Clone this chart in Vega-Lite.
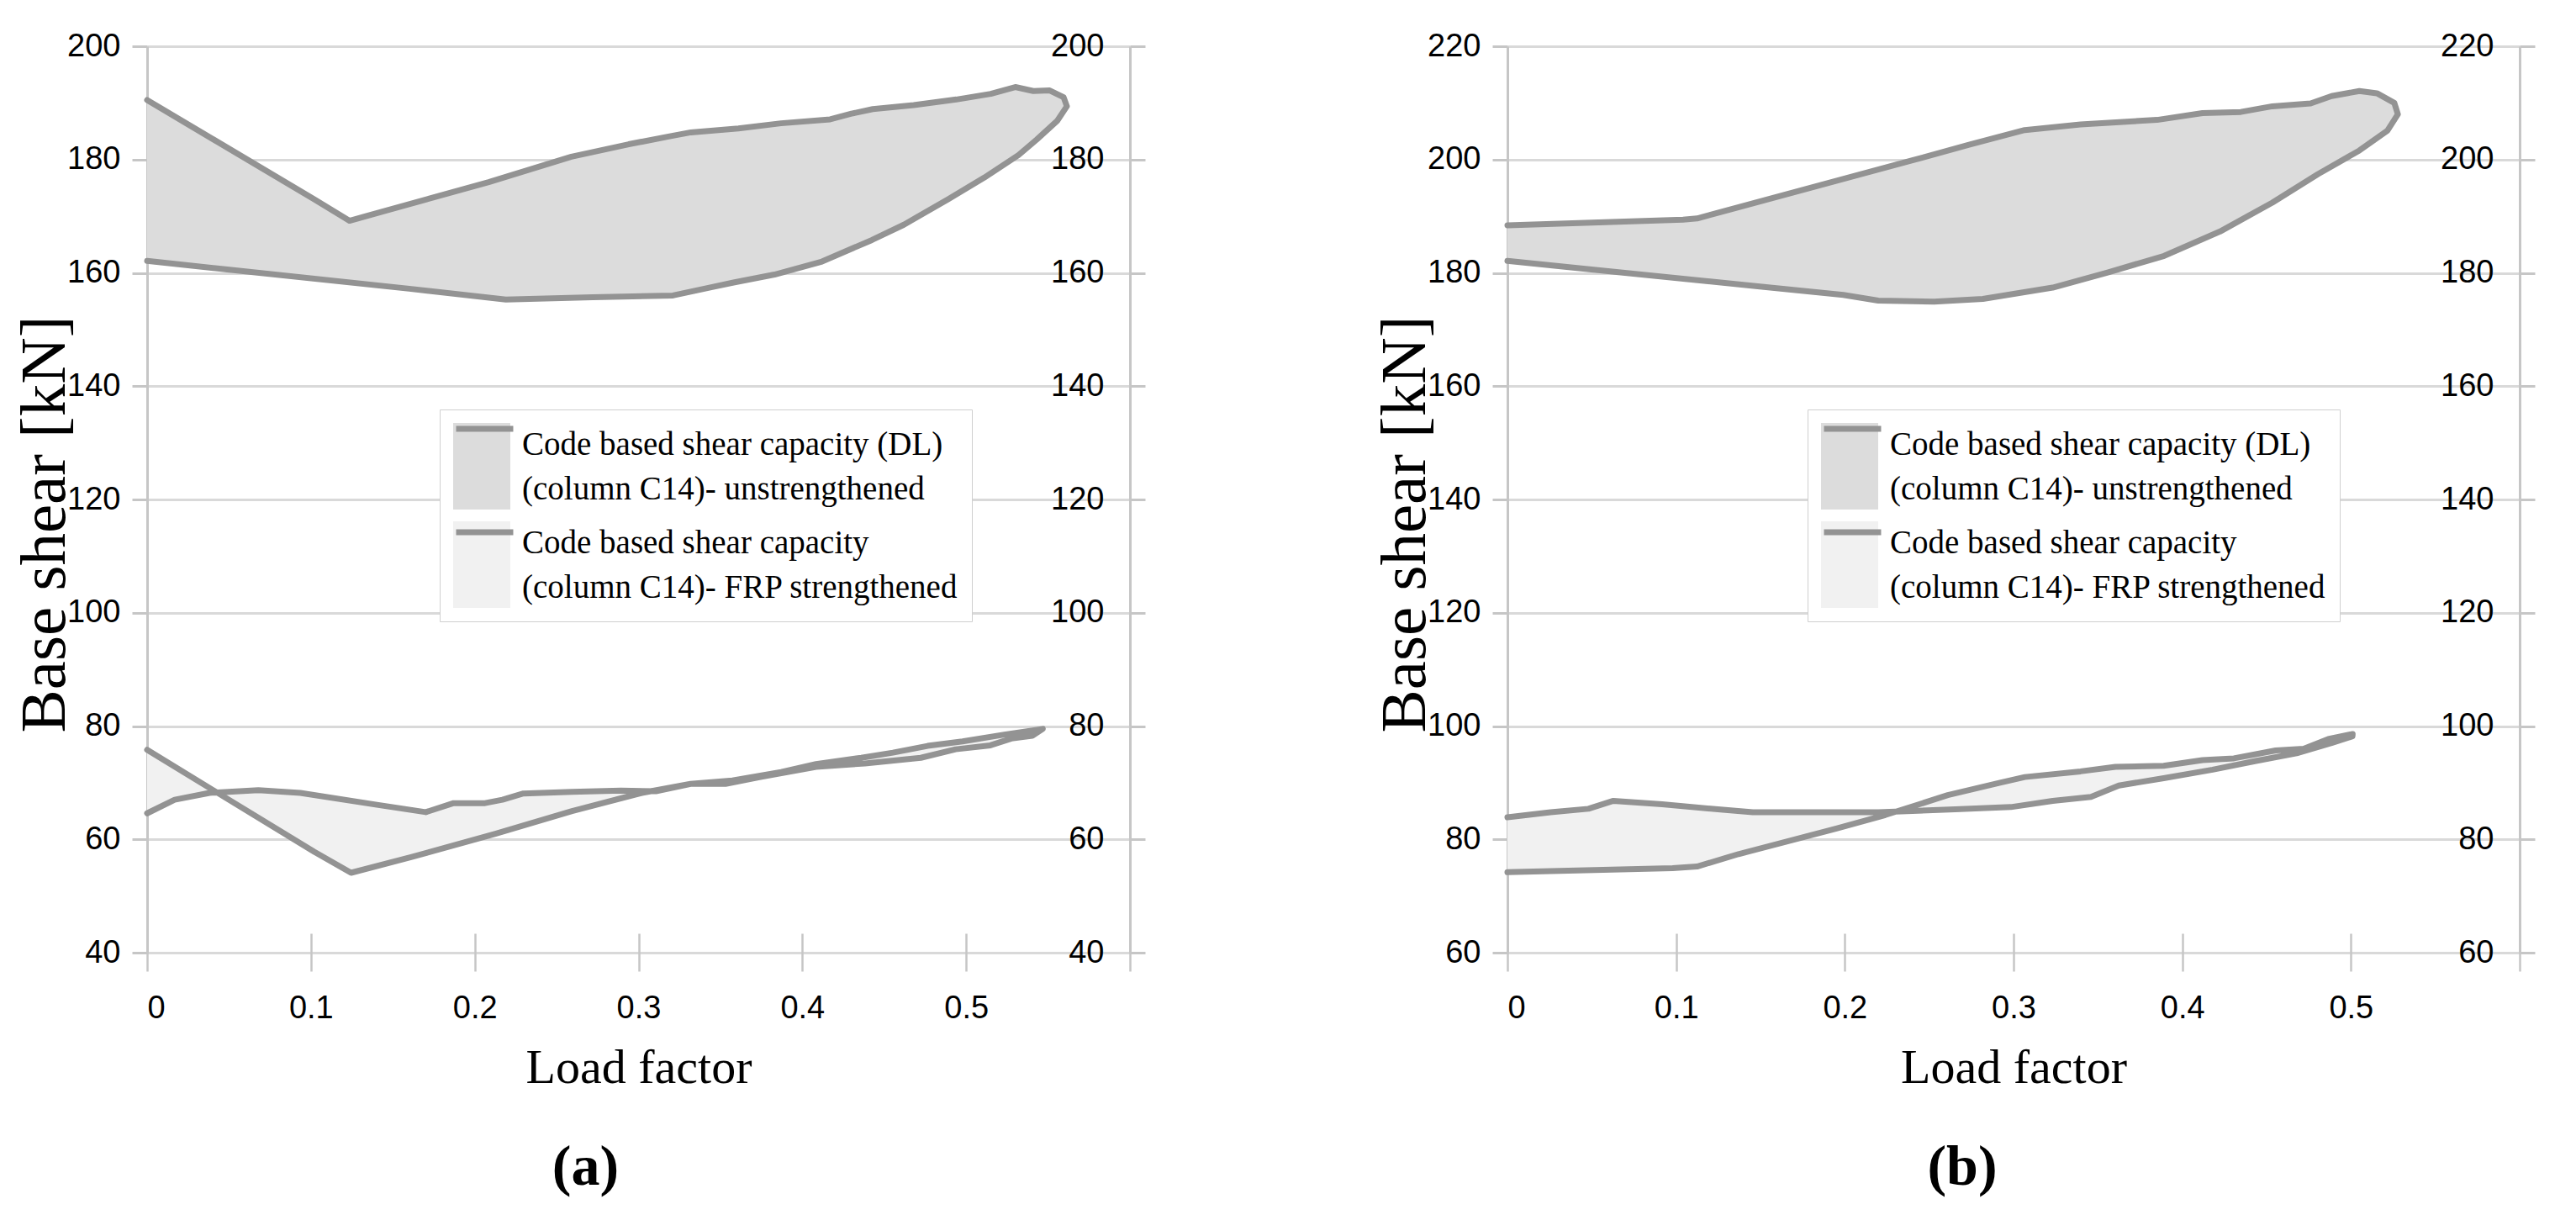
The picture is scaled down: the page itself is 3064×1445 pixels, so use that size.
{
  "$schema": "https://vega.github.io/schema/vega-lite/v6.json",
  "background": "white",
  "autosize": {"type": "pad"},
  "padding": {"left": 14, "top": 36, "right": 40, "bottom": 20},
  "config": {
    "view": {"stroke": null},
    "axis": {
      "labelFont": "Liberation Sans Narrow, Arial Narrow, Liberation Sans, sans-serif",
      "labelFontSize": 38,
      "labelColor": "#000000",
      "domainColor": "#c6c6c6",
      "domainWidth": 3,
      "tickColor": "#c6c6c6",
      "tickWidth": 3,
      "gridColor": "#d9d9d9",
      "gridWidth": 3,
      "titleFont": "Liberation Serif",
      "titleFontWeight": "normal",
      "titleColor": "#000000"
    }
  },
  "datasets": {
    "a": [
      {"s":"DL","i":0,"x":0,"y":190.5},{"s":"DL","i":1,"x":0.102,"y":173.0},{"s":"DL","i":2,"x":0.1235,"y":169.2},{"s":"DL","i":3,"x":0.2085,"y":176.0},{"s":"DL","i":4,"x":0.259,"y":180.5},{"s":"DL","i":5,"x":0.294,"y":182.7},{"s":"DL","i":6,"x":0.319,"y":184.1},{"s":"DL","i":7,"x":0.332,"y":184.8},{"s":"DL","i":8,"x":0.361,"y":185.5},{"s":"DL","i":9,"x":0.387,"y":186.4},{"s":"DL","i":10,"x":0.417,"y":187.1},{"s":"DL","i":11,"x":0.43,"y":188.1},{"s":"DL","i":12,"x":0.443,"y":188.9},{"s":"DL","i":13,"x":0.468,"y":189.6},{"s":"DL","i":14,"x":0.494,"y":190.6},{"s":"DL","i":15,"x":0.515,"y":191.6},{"s":"DL","i":16,"x":0.53,"y":192.8},{"s":"DL","i":17,"x":0.541,"y":192.1},{"s":"DL","i":18,"x":0.551,"y":192.2},{"s":"DL","i":19,"x":0.5595,"y":191.0},{"s":"DL","i":20,"x":0.5615,"y":189.4},{"s":"DL","i":21,"x":0.5555,"y":186.8},{"s":"DL","i":22,"x":0.543,"y":183.5},{"s":"DL","i":23,"x":0.532,"y":180.8},{"s":"DL","i":24,"x":0.511,"y":176.8},{"s":"DL","i":25,"x":0.489,"y":173.0},{"s":"DL","i":26,"x":0.462,"y":168.5},{"s":"DL","i":27,"x":0.4425,"y":165.8},{"s":"DL","i":28,"x":0.412,"y":162.0},{"s":"DL","i":29,"x":0.383,"y":159.7},{"s":"DL","i":30,"x":0.358,"y":158.3},{"s":"DL","i":31,"x":0.345,"y":157.5},{"s":"DL","i":32,"x":0.321,"y":156.0},{"s":"DL","i":33,"x":0.272,"y":155.7},{"s":"DL","i":34,"x":0.219,"y":155.3},{"s":"DL","i":35,"x":0.16,"y":157.2},{"s":"DL","i":36,"x":0.049,"y":160.6},{"s":"DL","i":37,"x":0,"y":162.1},
      {"s":"FRP","i":0,"x":0,"y":75.8},{"s":"FRP","i":1,"x":0.102,"y":57.8},{"s":"FRP","i":2,"x":0.1245,"y":54.1},{"s":"FRP","i":3,"x":0.1616,"y":56.9},{"s":"FRP","i":4,"x":0.2126,"y":61.0},{"s":"FRP","i":5,"x":0.2594,"y":65.0},{"s":"FRP","i":6,"x":0.302,"y":68.2},{"s":"FRP","i":7,"x":0.3318,"y":69.8},{"s":"FRP","i":8,"x":0.3573,"y":70.4},{"s":"FRP","i":9,"x":0.3871,"y":71.9},{"s":"FRP","i":10,"x":0.4084,"y":73.3},{"s":"FRP","i":11,"x":0.436,"y":74.4},{"s":"FRP","i":12,"x":0.4553,"y":75.3},{"s":"FRP","i":13,"x":0.4765,"y":76.5},{"s":"FRP","i":14,"x":0.4978,"y":77.3},{"s":"FRP","i":15,"x":0.5234,"y":78.5},{"s":"FRP","i":16,"x":0.5468,"y":79.5},{"s":"FRP","i":17,"x":0.5404,"y":78.3},{"s":"FRP","i":18,"x":0.5276,"y":77.8},{"s":"FRP","i":19,"x":0.5148,"y":76.6},{"s":"FRP","i":20,"x":0.4936,"y":75.9},{"s":"FRP","i":21,"x":0.4723,"y":74.4},{"s":"FRP","i":22,"x":0.4382,"y":73.4},{"s":"FRP","i":23,"x":0.4084,"y":72.8},{"s":"FRP","i":24,"x":0.3744,"y":71.0},{"s":"FRP","i":25,"x":0.3531,"y":69.8},{"s":"FRP","i":26,"x":0.3318,"y":69.8},{"s":"FRP","i":27,"x":0.3106,"y":68.5},{"s":"FRP","i":28,"x":0.2893,"y":68.6},{"s":"FRP","i":29,"x":0.2594,"y":68.4},{"s":"FRP","i":30,"x":0.2297,"y":68.1},{"s":"FRP","i":31,"x":0.2169,"y":67.0},{"s":"FRP","i":32,"x":0.2063,"y":66.4},{"s":"FRP","i":33,"x":0.1871,"y":66.4},{"s":"FRP","i":34,"x":0.1701,"y":64.8},{"s":"FRP","i":35,"x":0.1403,"y":66.1},{"s":"FRP","i":36,"x":0.0935,"y":68.2},{"s":"FRP","i":37,"x":0.0679,"y":68.7},{"s":"FRP","i":38,"x":0.0381,"y":68.2},{"s":"FRP","i":39,"x":0.0168,"y":67.0},{"s":"FRP","i":40,"x":0,"y":64.6}
    ],
    "b": [
      {"s":"DL","i":0,"x":0,"y":188.4},{"s":"DL","i":1,"x":0.1041,"y":189.4},{"s":"DL","i":2,"x":0.1124,"y":189.6},{"s":"DL","i":3,"x":0.2054,"y":197.1},{"s":"DL","i":4,"x":0.2405,"y":199.9},{"s":"DL","i":5,"x":0.2736,"y":202.6},{"s":"DL","i":6,"x":0.3066,"y":205.2},{"s":"DL","i":7,"x":0.3397,"y":206.2},{"s":"DL","i":8,"x":0.3851,"y":207.0},{"s":"DL","i":9,"x":0.412,"y":208.2},{"s":"DL","i":10,"x":0.4347,"y":208.4},{"s":"DL","i":11,"x":0.4534,"y":209.4},{"s":"DL","i":12,"x":0.4761,"y":209.9},{"s":"DL","i":13,"x":0.4885,"y":211.2},{"s":"DL","i":14,"x":0.505,"y":212.1},{"s":"DL","i":15,"x":0.5154,"y":211.7},{"s":"DL","i":16,"x":0.5257,"y":210.0},{"s":"DL","i":17,"x":0.5278,"y":208.0},{"s":"DL","i":18,"x":0.5216,"y":205.1},{"s":"DL","i":19,"x":0.505,"y":201.6},{"s":"DL","i":20,"x":0.4803,"y":197.4},{"s":"DL","i":21,"x":0.4534,"y":192.4},{"s":"DL","i":22,"x":0.4224,"y":187.3},{"s":"DL","i":23,"x":0.3893,"y":183.0},{"s":"DL","i":24,"x":0.3562,"y":180.1},{"s":"DL","i":25,"x":0.3232,"y":177.4},{"s":"DL","i":26,"x":0.2818,"y":175.4},{"s":"DL","i":27,"x":0.2529,"y":174.9},{"s":"DL","i":28,"x":0.2198,"y":175.1},{"s":"DL","i":29,"x":0.1991,"y":176.1},{"s":"DL","i":30,"x":0.1496,"y":177.6},{"s":"DL","i":31,"x":0.0462,"y":180.7},{"s":"DL","i":32,"x":0,"y":182.1},
      {"s":"FRP","i":0,"x":0,"y":83.9},{"s":"FRP","i":1,"x":0.0256,"y":84.8},{"s":"FRP","i":2,"x":0.048,"y":85.4},{"s":"FRP","i":3,"x":0.0628,"y":86.8},{"s":"FRP","i":4,"x":0.0917,"y":86.2},{"s":"FRP","i":5,"x":0.1248,"y":85.3},{"s":"FRP","i":6,"x":0.1455,"y":84.8},{"s":"FRP","i":7,"x":0.2199,"y":84.8},{"s":"FRP","i":8,"x":0.2653,"y":85.3},{"s":"FRP","i":9,"x":0.2984,"y":85.7},{"s":"FRP","i":10,"x":0.3232,"y":86.8},{"s":"FRP","i":11,"x":0.3459,"y":87.5},{"s":"FRP","i":12,"x":0.3624,"y":89.5},{"s":"FRP","i":13,"x":0.389,"y":90.8},{"s":"FRP","i":14,"x":0.418,"y":92.3},{"s":"FRP","i":15,"x":0.443,"y":93.8},{"s":"FRP","i":16,"x":0.4678,"y":95.2},{"s":"FRP","i":17,"x":0.4885,"y":97.0},{"s":"FRP","i":18,"x":0.5009,"y":98.2},{"s":"FRP","i":19,"x":0.501,"y":98.6},{"s":"FRP","i":20,"x":0.4865,"y":97.7},{"s":"FRP","i":21,"x":0.472,"y":96.0},{"s":"FRP","i":22,"x":0.4554,"y":95.7},{"s":"FRP","i":23,"x":0.4306,"y":94.3},{"s":"FRP","i":24,"x":0.412,"y":94.0},{"s":"FRP","i":25,"x":0.389,"y":93.0},{"s":"FRP","i":26,"x":0.3604,"y":92.8},{"s":"FRP","i":27,"x":0.3397,"y":92.0},{"s":"FRP","i":28,"x":0.3067,"y":91.0},{"s":"FRP","i":29,"x":0.292,"y":90.0},{"s":"FRP","i":30,"x":0.261,"y":87.8},{"s":"FRP","i":31,"x":0.224,"y":84.3},{"s":"FRP","i":32,"x":0.195,"y":81.9},{"s":"FRP","i":33,"x":0.137,"y":77.4},{"s":"FRP","i":34,"x":0.1124,"y":75.2},{"s":"FRP","i":35,"x":0.0979,"y":74.9},{"s":"FRP","i":36,"x":0,"y":74.2}
    ]
  },
  "bounds": "flush",
  "spacing": 449,
  "resolve": {
    "scale": {"fill": "independent", "stroke": "independent"},
    "legend": {"fill": "independent", "stroke": "independent"}
  },
  "hconcat": [
    {
      "width": 1169,
      "height": 1078,
      "data": {"name": "a"},
      "title": {"text": "(a)", "orient": "bottom", "anchor": "middle", "frame": "group", "font": "Liberation Serif", "fontSize": 68, "fontWeight": "bold", "color": "#000000", "dx": -63, "offset": 110, "baseline": "alphabetic"},
      "resolve": {"axis": {"y": "independent"}},
      "layer": [
        {
          "mark": {"type": "line", "strokeWidth": 7, "strokeJoin": "round", "strokeCap": "round"},
          "encoding": {
            "x": {"field": "x", "type": "quantitative", "scale": {"domain": [0, 0.6], "nice": false, "zero": false},
              "axis": {"values": [0, 0.1, 0.2, 0.3, 0.4, 0.5, 0.6], "labelExpr": "datum.value > 0.55 ? '' : format(datum.value, '~g')", "grid": false, "domain": false, "tickSize": 45, "tickWidth": 2.5, "offset": -23, "labelPadding": 25, "title": "Load factor", "titleFontSize": 58, "titleY": 177, "titleBaseline": "alphabetic"}},
            "y": {"field": "y", "type": "quantitative", "scale": {"domain": [40, 200], "nice": false, "zero": false},
              "axis": {"values": [40, 60, 80, 100, 120, 140, 160, 180, 200], "grid": true, "tickSize": 18, "labelPadding": 14, "title": "Base shear [kN]", "titleFontSize": 77, "titleX": -99, "titleY": 568, "titleAngle": -90, "titleAlign": "center", "titleBaseline": "alphabetic"}},
            "order": {"field": "i", "type": "quantitative"},
            "fill": {"field": "s", "type": "nominal", "scale": {"range": ["#dcdcdc", "#f1f1f1"]},
              "legend": {"orient": "none", "legendX": 348, "legendY": 432, "direction": "vertical", "title": null, "symbolType": "M-1,-1H0.32V1H-1Z", "symbolSize": 10609, "symbolStrokeWidth": 0, "labelFont": "Liberation Serif", "labelFontSize": 39, "labelColor": "#000000", "labelLimit": 2000, "labelOffset": -21, "rowPadding": 14, "padding": 16, "fillColor": "#ffffff", "strokeColor": "#cfcfcf", "zindex": 1,
                "labelExpr": "datum.label == 'DL' ? ['Code based shear capacity (DL)', '(column C14)- unstrengthened'] : ['Code based shear capacity', '(column C14)- FRP strengthened']",
                "encoding": {"labels": {"lineHeight": {"value": 53}, "dy": {"value": -26}}}}},
            "stroke": {"field": "s", "type": "nominal", "scale": {"domain": ["DL", "FRP"], "range": ["#939393", "#939393"]},
              "legend": {"orient": "none", "legendX": 348, "legendY": 432, "direction": "vertical", "title": null, "symbolType": "M-1,-0.93H0.32", "symbolSize": 10609, "symbolStrokeWidth": 7, "symbolFillColor": "transparent", "labelFont": "Liberation Serif", "labelFontSize": 39, "labelLimit": 2000, "labelOffset": -21, "rowPadding": 14, "padding": 16, "zindex": 2,
                "labelExpr": "[' ', ' ']",
                "encoding": {"labels": {"lineHeight": {"value": 53}, "dy": {"value": -26}}}}}
          }
        },
        {
          "mark": {"type": "point", "opacity": 0},
          "encoding": {
            "x": {"field": "x", "type": "quantitative"},
            "y": {"field": "y", "type": "quantitative",
              "axis": {"orient": "right", "values": [40, 60, 80, 100, 120, 140, 160, 180, 200], "grid": false, "domain": true, "tickSize": 18, "labelAlign": "right", "labelPadding": -49, "title": null}}
          }
        }
      ]
    },
    {
      "width": 1204,
      "height": 1078,
      "data": {"name": "b"},
      "title": {"text": "(b)", "orient": "bottom", "anchor": "middle", "frame": "group", "font": "Liberation Serif", "fontSize": 68, "fontWeight": "bold", "color": "#000000", "dx": -61, "offset": 110, "baseline": "alphabetic"},
      "resolve": {"axis": {"y": "independent"}},
      "layer": [
        {
          "mark": {"type": "line", "strokeWidth": 7, "strokeJoin": "round", "strokeCap": "round"},
          "encoding": {
            "x": {"field": "x", "type": "quantitative", "scale": {"domain": [0, 0.6], "nice": false, "zero": false},
              "axis": {"values": [0, 0.1, 0.2, 0.3, 0.4, 0.5, 0.6], "labelExpr": "datum.value > 0.55 ? '' : format(datum.value, '~g')", "grid": false, "domain": false, "tickSize": 45, "tickWidth": 2.5, "offset": -23, "labelPadding": 25, "title": "Load factor", "titleFontSize": 58, "titleY": 177, "titleBaseline": "alphabetic"}},
            "y": {"field": "y", "type": "quantitative", "scale": {"domain": [60, 220], "nice": false, "zero": false},
              "axis": {"values": [60, 80, 100, 120, 140, 160, 180, 200, 220], "grid": true, "tickSize": 18, "labelPadding": 14, "title": "Base shear [kN]", "titleFontSize": 77, "titleX": -99, "titleY": 568, "titleAngle": -90, "titleAlign": "center", "titleBaseline": "alphabetic"}},
            "order": {"field": "i", "type": "quantitative"},
            "fill": {"field": "s", "type": "nominal", "scale": {"range": ["#dcdcdc", "#f1f1f1"]},
              "legend": {"orient": "none", "legendX": 357, "legendY": 432, "direction": "vertical", "title": null, "symbolType": "M-1,-1H0.32V1H-1Z", "symbolSize": 10609, "symbolStrokeWidth": 0, "labelFont": "Liberation Serif", "labelFontSize": 39, "labelColor": "#000000", "labelLimit": 2000, "labelOffset": -21, "rowPadding": 14, "padding": 16, "fillColor": "#ffffff", "strokeColor": "#cfcfcf", "zindex": 1,
                "labelExpr": "datum.label == 'DL' ? ['Code based shear capacity (DL)', '(column C14)- unstrengthened'] : ['Code based shear capacity', '(column C14)- FRP strengthened']",
                "encoding": {"labels": {"lineHeight": {"value": 53}, "dy": {"value": -26}}}}},
            "stroke": {"field": "s", "type": "nominal", "scale": {"domain": ["DL", "FRP"], "range": ["#939393", "#939393"]},
              "legend": {"orient": "none", "legendX": 357, "legendY": 432, "direction": "vertical", "title": null, "symbolType": "M-1,-0.93H0.32", "symbolSize": 10609, "symbolStrokeWidth": 7, "symbolFillColor": "transparent", "labelFont": "Liberation Serif", "labelFontSize": 39, "labelLimit": 2000, "labelOffset": -21, "rowPadding": 14, "padding": 16, "zindex": 2,
                "labelExpr": "[' ', ' ']",
                "encoding": {"labels": {"lineHeight": {"value": 53}, "dy": {"value": -26}}}}}
          }
        },
        {
          "mark": {"type": "point", "opacity": 0},
          "encoding": {
            "x": {"field": "x", "type": "quantitative"},
            "y": {"field": "y", "type": "quantitative",
              "axis": {"orient": "right", "values": [60, 80, 100, 120, 140, 160, 180, 200, 220], "grid": false, "domain": true, "tickSize": 18, "labelAlign": "right", "labelPadding": -49, "title": null}}
          }
        }
      ]
    }
  ]
}
